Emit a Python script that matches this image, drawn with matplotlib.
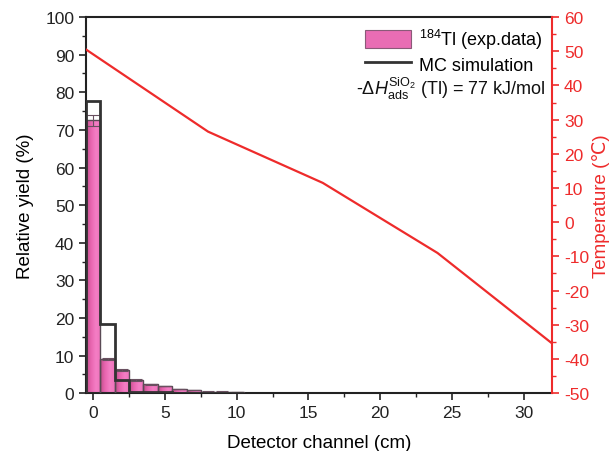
import numpy as np
import matplotlib
matplotlib.use("Agg")
import matplotlib.pyplot as plt
from matplotlib.colors import LinearSegmentedColormap
from matplotlib.patches import Patch
from matplotlib.lines import Line2D
from matplotlib.ticker import MultipleLocator

# Relative yield per detector channel (1 cm bins)
channels = np.arange(11)
exp_yield = [72.5, 9.0, 6.2, 3.5, 2.3, 1.9, 1.1, 0.8, 0.4, 0.4, 0.3]
exp_err = [1.4, 0.3, 0.2, 0.15, 0.1, 0.1, 0.08, 0.06, 0.05, 0.05, 0.05]
mc_yield = [77.6, 18.5, 3.4, 0.4, 0.3, 0.2, 0.15, 0.1, 0.1, 0.05, 0.05]

# Temperature gradient along the detector
temp_pos = [-0.5, 8, 16, 24, 32]
temp_c = [50.5, 26.5, 11.5, -9.0, -35.5]

x_ticks = [0, 5, 10, 15, 20, 25, 30]

plt.rcParams["font.family"] = ["Liberation Sans", "DejaVu Sans"]
plt.rcParams["mathtext.fontset"] = "custom"
plt.rcParams["mathtext.rm"] = "Liberation Sans"
plt.rcParams["mathtext.it"] = "Liberation Sans:italic"
plt.rcParams["mathtext.bf"] = "Liberation Sans:bold"
plt.rcParams["axes.unicode_minus"] = False

RED = "#ee2b2b"
pink_cmap = LinearSegmentedColormap.from_list(
    "tl_pink", ["#bf4d88", "#e865b0", "#f47ec4", "#ef74bd"])

fig = plt.figure(figsize=(6.15, 4.52), dpi=100)
ax = fig.add_axes([0.140, 0.128, 0.758, 0.832])

# Experimental bars with a left-to-right shaded fill
bars = ax.bar(channels, exp_yield, width=1.0, facecolor="none",
              edgecolor="#5a4a55", linewidth=1.0, zorder=3)
grad = np.linspace(0, 1, 64).reshape(1, -1)
for b in bars:
    x0, y0 = b.get_x(), b.get_y()
    w, h = b.get_width(), b.get_height()
    im = ax.imshow(grad, extent=[x0, x0 + w, y0, y0 + h], aspect="auto",
                   cmap=pink_cmap, origin="lower", zorder=2,
                   interpolation="bilinear")
    im.set_clip_path(b)
ax.errorbar(channels, exp_yield, yerr=exp_err, fmt="none", ecolor="#6a5060",
            elinewidth=0.8, capsize=4, capthick=0.8, zorder=4)

# Monte Carlo simulation as a step outline
edges = np.append(channels - 0.5, channels[-1] + 0.5)
ax.stairs(mc_yield, edges, color="#333333", linewidth=2.0, zorder=5)

ax.set_xlim(-0.5, 32)
ax.set_ylim(0, 100)
ax.set_xticks(x_ticks)
ax.xaxis.set_minor_locator(MultipleLocator(2.5))
ax.yaxis.set_major_locator(MultipleLocator(10))
ax.yaxis.set_minor_locator(MultipleLocator(5))
ax.tick_params(axis="both", which="major", direction="out", length=5,
               width=1.2, labelsize=12.5, colors="#222222")
ax.tick_params(axis="both", which="minor", direction="out", length=3,
               width=1.0, colors="#222222")
for side in ("left", "bottom", "top"):
    ax.spines[side].set_linewidth(1.5)
    ax.spines[side].set_color("#222222")
ax.spines["right"].set_visible(False)
ax.set_xlabel("Detector channel (cm)", fontsize=13.5, labelpad=10)
ax.set_ylabel("Relative yield (%)", fontsize=13.5, labelpad=8)

# Temperature on the secondary axis
ax2 = ax.twinx()
ax2.plot(temp_pos, temp_c, color=RED, linewidth=1.6, zorder=6)
ax2.set_ylim(-50, 60)
ax2.yaxis.set_major_locator(MultipleLocator(10))
ax2.yaxis.set_minor_locator(MultipleLocator(5))
ax2.tick_params(axis="y", which="major", direction="out", length=5,
                width=1.2, labelsize=12.5, colors=RED)
ax2.tick_params(axis="y", which="minor", direction="out", length=3,
                width=1.0, colors=RED)
for side in ("left", "bottom", "top"):
    ax2.spines[side].set_visible(False)
ax2.spines["right"].set_color(RED)
ax2.spines["right"].set_linewidth(1.5)
ax2.set_ylabel("Temperature (\u2103)", fontsize=13.5, color=RED, labelpad=2)

handles = [Patch(facecolor="#e96db4", edgecolor="#8a5a78", linewidth=0.8),
           Line2D([0], [0], color="#333333", linewidth=2.0)]
labels = [r"$^{184}$Tl (exp.data)", "MC simulation"]
leg = ax2.legend(handles, labels, loc="upper right", frameon=False,
                 fontsize=13, bbox_to_anchor=(1.0, 1.0),
                 handlelength=2.6, handleheight=1.2, handletextpad=0.4,
                 borderaxespad=0.15, labelspacing=0.2)
ax2.text(0.986, 0.812,
         r"-$\Delta H_{\mathrm{ads}}^{\mathrm{SiO_2}}$ (Tl) = 77 kJ/mol",
         transform=ax2.transAxes, ha="right", va="center", fontsize=13,
         color="#111111")

fig.savefig("out.png", dpi=100)
